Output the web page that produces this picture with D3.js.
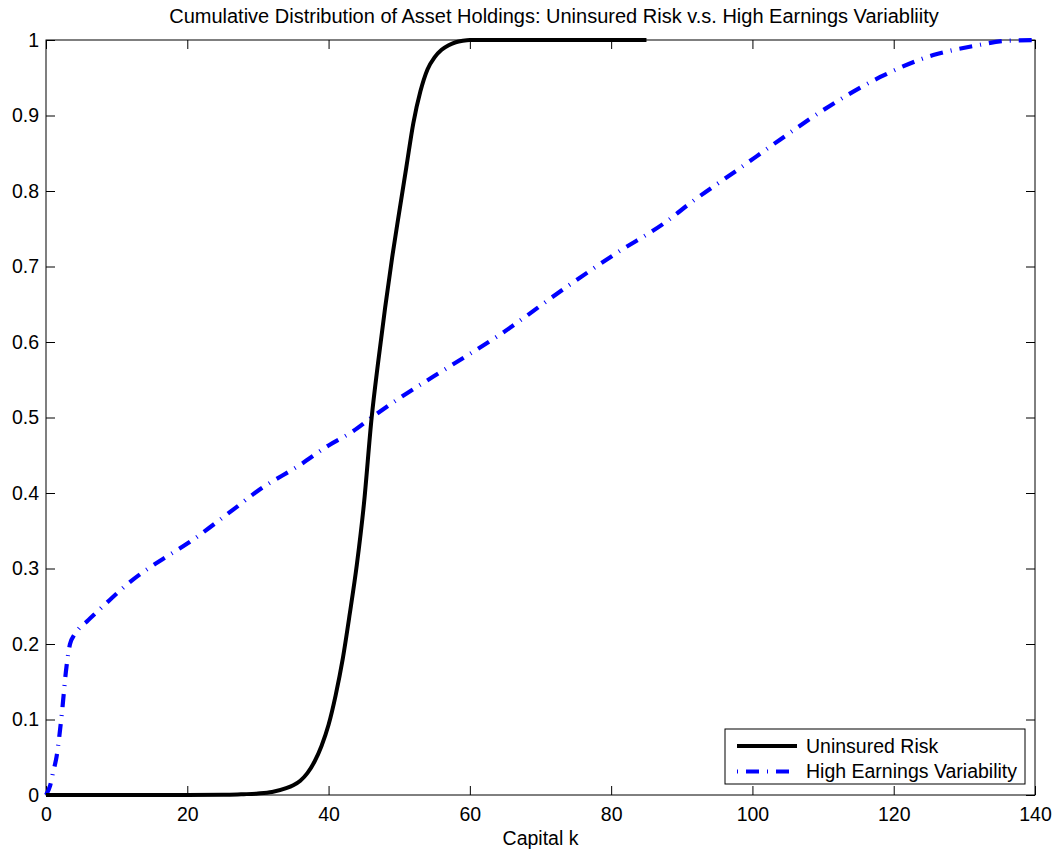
<!DOCTYPE html>
<html>
<head>
<meta charset="utf-8">
<script src="https://cdn.jsdelivr.net/npm/d3@7"></script>
<style>
  html, body { margin: 0; padding: 0; background: #fff; }
  svg { display: block; }
  text { font-family: "Liberation Sans", Arial, Helvetica, sans-serif; fill: #000; }
</style>
</head>
<body>
<svg id="chart" width="1061" height="850"></svg>
<script>
// ---- data ----
const titleText = "Cumulative Distribution of Asset Holdings: Uninsured Risk v.s. High Earnings Variabliity";
const xLabel = "Capital k";
const seriesNames = ["Uninsured Risk", "High Earnings Variability"];
const xTicks = [0, 20, 40, 60, 80, 100, 120, 140];
const yTicks = [0, 0.1, 0.2, 0.3, 0.4, 0.5, 0.6, 0.7, 0.8, 0.9, 1];
const yTickLabels = ["0", "0.1", "0.2", "0.3", "0.4", "0.5", "0.6", "0.7", "0.8", "0.9", "1"];

// Uninsured Risk CDF
const uninsuredK = [0, 20, 26, 28, 30, 32, 34, 35, 36, 37, 38, 39, 40, 41, 42, 43, 44, 45, 46.1, 47, 48, 49, 50, 51, 52, 53, 54, 55, 56, 57, 58, 59, 60, 85];
const uninsuredF = [0, 0, 0.0003, 0.001, 0.002, 0.004, 0.009, 0.013, 0.019, 0.029, 0.044, 0.065, 0.093, 0.132, 0.18, 0.24, 0.305, 0.385, 0.5, 0.572, 0.645, 0.712, 0.772, 0.831, 0.89, 0.932, 0.961, 0.977, 0.987, 0.993, 0.997, 0.999, 1, 1];

// High Earnings Variability CDF
const highVarK = [0, 0.57, 1.0, 1.5, 2.2, 2.9, 3.4, 4, 4.8, 5.8, 7.5, 9.1, 12, 16.1, 20, 26.5, 30, 36, 40, 43.5, 46.1, 50.1, 57.2, 64.3, 73.7, 80.8, 87.9, 91.2, 98.2, 103.9, 111, 118.1, 125.6, 131.3, 136, 140];
const highVarF = [0, 0.012, 0.03, 0.051, 0.104, 0.17, 0.2, 0.212, 0.222, 0.23, 0.245, 0.259, 0.283, 0.31, 0.333, 0.378, 0.403, 0.4375, 0.463, 0.482, 0.5, 0.526, 0.568, 0.61, 0.673, 0.718, 0.76, 0.784, 0.83, 0.868, 0.913, 0.951, 0.98, 0.992, 0.999, 1];

// ---- layout ----
const svg = d3.select("#chart");
const pL = 46, pR = 1035, pT = 40, pB = 795;
const x = d3.scaleLinear().domain([0, 140]).range([pL, pR]);
const y = d3.scaleLinear().domain([0, 1]).range([pB, pT]);
const fontSize = 19.5;
const tickLen = 9;

const g = svg.append("g");

const line = d3.line().x(d => x(d[0])).y(d => y(d[1])).curve(d3.curveMonotoneX);
const uninsured = uninsuredK.map((k, i) => [k, uninsuredF[i]]);
const highVar = highVarK.map((k, i) => [k, highVarF[i]]);

// axes box + ticks (inward on all four sides)
const axG = g.append("g");
axG.append("g").attr("transform", `translate(0,${pB})`)
  .call(d3.axisBottom(x).tickValues(xTicks).tickSize(-tickLen).tickPadding(12).tickFormat(d3.format("d")));
axG.append("g").attr("transform", `translate(0,${pT})`)
  .call(d3.axisTop(x).tickValues(xTicks).tickSize(-tickLen).tickFormat(""));
axG.append("g").attr("transform", `translate(${pL},0)`)
  .call(d3.axisLeft(y).tickValues(yTicks).tickSize(-tickLen).tickPadding(7).tickFormat((d, i) => yTickLabels[i]));
axG.append("g").attr("transform", `translate(${pR},0)`)
  .call(d3.axisRight(y).tickValues(yTicks).tickSize(-tickLen).tickFormat(""));
axG.selectAll(".domain").remove();
axG.selectAll(".tick line").attr("stroke", "#000").attr("stroke-width", 1);
axG.selectAll(".tick text").attr("font-size", fontSize).attr("font-family", "Liberation Sans, Arial, sans-serif").attr("fill", "#000");
g.append("rect").attr("x", pL).attr("y", pT).attr("width", pR - pL).attr("height", pB - pT)
  .attr("fill", "none").attr("stroke", "#000").attr("stroke-width", 1);

g.append("path").datum(highVar).attr("d", line).attr("fill", "none")
  .attr("stroke", "#0000ff").attr("stroke-width", 4.2).attr("stroke-dasharray", "13,8,1,8");
g.append("path").datum(uninsured).attr("d", line).attr("fill", "none")
  .attr("stroke", "#000").attr("stroke-width", 4);

// title and axis label
svg.append("text").attr("x", 554).attr("y", 23).attr("text-anchor", "middle")
  .attr("font-size", 20).text(titleText);
svg.append("text").attr("x", (pL + pR) / 2).attr("y", 845).attr("text-anchor", "middle")
  .attr("font-size", fontSize).text(xLabel);

// legend
const lg = svg.append("g");
lg.append("rect").attr("x", 725).attr("y", 729).attr("width", 300).attr("height", 55)
  .attr("fill", "#fff").attr("stroke", "#000").attr("stroke-width", 1);
const rows = [
  { name: seriesNames[0], color: "#000", dash: null, w: 4 },
  { name: seriesNames[1], color: "#0000ff", dash: "1,8,13,8", w: 4.2 }
];
rows.forEach((r, i) => {
  const cy = 746 + i * 25.5;
  const l = lg.append("line").attr("x1", 737).attr("x2", 797).attr("y1", cy).attr("y2", cy)
    .attr("stroke", r.color).attr("stroke-width", r.w);
  if (r.dash) l.attr("stroke-dasharray", r.dash);
  lg.append("text").attr("x", 806).attr("y", cy).attr("dy", "0.35em").attr("font-size", fontSize).text(r.name);
});
</script>
</body>
</html>
